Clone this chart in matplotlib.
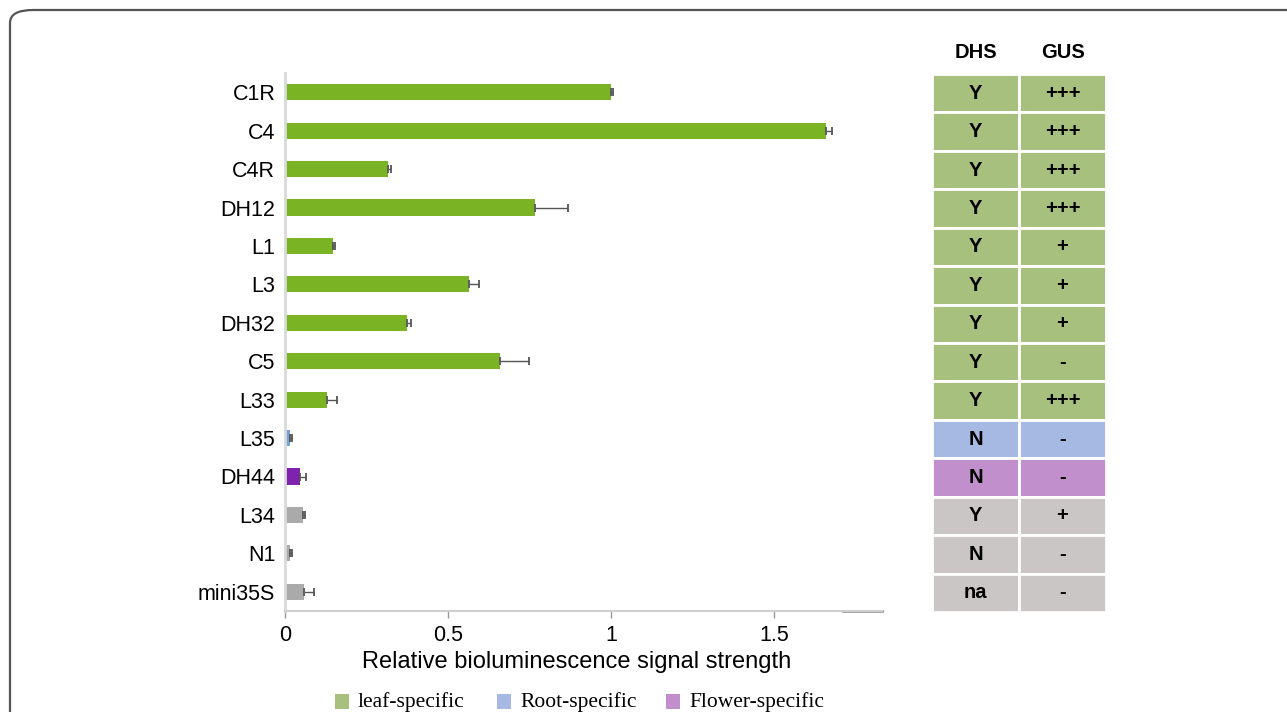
import matplotlib.pyplot as plt
from matplotlib.patches import Rectangle, FancyBboxPatch
import numpy as np

plt.rcParams['font.family'] = ['Liberation Sans', 'DejaVu Sans']

# promoter constructs, top to bottom
promoters = ['C1R', 'C4', 'C4R', 'DH12', 'L1', 'L3', 'DH32', 'C5', 'L33',
             'L35', 'DH44', 'L34', 'N1', 'mini35S']
signal = [1.0, 1.658, 0.317, 0.768, 0.148, 0.565, 0.375, 0.66, 0.13,
          0.015, 0.047, 0.055, 0.015, 0.059]
signal_err = [0.005, 0.02, 0.008, 0.10, 0.006, 0.03, 0.01, 0.087, 0.029,
              0.005, 0.018, 0.006, 0.005, 0.031]
group = ['leaf'] * 9 + ['root', 'flower', 'other', 'other', 'other']
dhs = ['Y'] * 9 + ['N', 'N', 'Y', 'N', 'na']
gus = ['+++', '+++', '+++', '+++', '+', '+', '+', '-', '+++',
       '-', '-', '+', '-', '-']

bar_col = {'leaf': '#7ab323', 'root': '#72a6da', 'flower': '#7f22ae', 'other': '#aaaaaa'}
cell_col = {'leaf': '#a8c07e', 'root': '#a6b9e2', 'flower': '#c18fcb', 'other': '#cac6c5'}

W, H = 1287, 712
fig = plt.figure(figsize=(W / 100, H / 100), dpi=100)

# rounded outer frame
frame = FancyBboxPatch((10 / W, -0.2), 1.2, (H - 10) / H + 0.2,
                       boxstyle='round,pad=0,rounding_size=0.018',
                       transform=fig.transFigure, fill=False,
                       edgecolor='#555555', linewidth=1.6)
fig.patches.append(frame)

ax = fig.add_axes([285 / W, (H - 611) / H, (882 - 285) / W, (611 - 73) / H])
y = np.arange(len(promoters))
ax.barh(y, signal, height=0.42, color=[bar_col[g] for g in group], zorder=2)
ax.errorbar(signal, y, xerr=[np.zeros(len(signal)), signal_err], fmt='none',
            ecolor='#555555', elinewidth=1, capsize=3, capthick=1.3, zorder=3)
ax.set_ylim(len(promoters) - 0.5, -0.5)
ax.set_xlim(0, 1.831)
ax.set_yticks(y)
ax.set_yticklabels(promoters, fontsize=15.5)
ax.set_xticks([0, 0.5, 1, 1.5])
ax.set_xticklabels(['0', '0.5', '1', '1.5'], fontsize=15.5)
ax.tick_params(axis='y', length=0, pad=7)
ax.tick_params(axis='x', length=5, width=1, color='#999999', pad=5)
for s in ['top', 'right']:
    ax.spines[s].set_visible(False)
ax.spines['left'].set_color('#d9d9d9')
ax.spines['left'].set_linewidth(2)
ax.spines['bottom'].set_color('#cfcfcf')
ax.spines['bottom'].set_linewidth(1.5)
ax.axhline(len(promoters) - 0.5, xmin=0.935, xmax=1, color='#999999', lw=2, clip_on=False)

fig.text(577 / W, 1 - 662 / H, 'Relative bioluminescence signal strength',
         fontsize=17, ha='center', va='center')

# DHS / GUS table beside the bars
tab = fig.add_axes([932 / W, (H - 612) / H, (1106 - 932) / W, (612 - 74) / H])
tab.set_xlim(0, 2)
tab.set_ylim(len(promoters), 0)
tab.axis('off')
for i, (g, d, s) in enumerate(zip(group, dhs, gus)):
    for j, txt in enumerate([d, s]):
        tab.add_patch(Rectangle((j, i), 1, 1, facecolor=cell_col[g],
                                edgecolor='white', linewidth=2))
        tab.text(j + 0.5, i + 0.5, txt, ha='center', va='center',
                 fontsize=14.5, fontweight='bold')
for j, hdr in enumerate(['DHS', 'GUS']):
    tab.text(j + 0.5, -0.55, hdr, ha='center', va='center',
             fontsize=14.5, fontweight='bold', clip_on=False)

# colour key at the bottom
keys = [('leaf', 'leaf-specific', 335), ('root', 'Root-specific', 497),
        ('flower', 'Flower-specific', 666)]
for g, label, x0 in keys:
    fig.patches.append(Rectangle((x0 / W, 1 - 709 / H), 14 / W, 15 / H,
                                 transform=fig.transFigure,
                                 facecolor=cell_col[g], edgecolor='none'))
    fig.text((x0 + 23) / W, 1 - 702 / H, label, fontsize=15.5,
             family='Liberation Serif', va='center', ha='left')

fig.savefig('out.png', dpi=100)
